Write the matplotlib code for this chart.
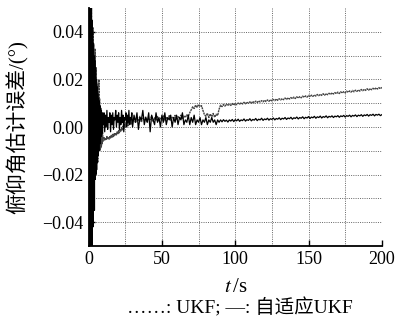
import numpy as np
import matplotlib
matplotlib.use("Agg")
import matplotlib.pyplot as plt

# time sampling: 0-10 s every 0.25 s, 10-30 s every 0.5 s, 30-200 s every 1 s
t = np.concatenate([np.arange(0, 10, 0.25), np.arange(10, 30, 0.5), np.arange(30, 201, 1.0)])

adaptive_ukf = [
    0.00, 0.09, -0.08, 0.07, -0.085, 0.06, -0.07, 0.055, -0.06,
    0.045, -0.05, 0.04, -0.042,
    0.035, -0.03, 0.03, -0.035,
    0.028, -0.022, 0.025, -0.02,
    0.02, -0.018, 0.017, -0.015,
    0.014, -0.012, 0.012, -0.01,
    0.011, -0.006, 0.009, -0.007,
    0.008, -0.004, 0.007, -0.003,
    0.006, -0.002, 0.005,
    # 10 - 29.5
    0.001, 0.006, -0.002, 0.005, 0.000, 0.007, -0.001, 0.004, 0.002, 0.006,
    -0.002, 0.005, 0.001, 0.006, -0.001, 0.004, 0.003, 0.007, 0.000, 0.005,
    0.002, 0.006, -0.001, 0.004, 0.001, 0.007, 0.002, 0.005, -0.002, 0.004,
    0.003, 0.006, 0.000, 0.005, 0.002, 0.007, 0.001, 0.004, 0.003, 0.006,
    # 30 - 89
    0.000, 0.005, 0.002, 0.006, -0.001, 0.004, 0.003, 0.007, 0.001, 0.004,
    0.002, 0.006, -0.002, 0.005, 0.003, 0.001, 0.006, 0.002, 0.004, 0.000,
    0.005, 0.002, 0.006, 0.001, 0.004, 0.003, 0.005, 0.000, 0.004, 0.002,
    0.005, 0.001, 0.004, 0.003, 0.006, 0.001, 0.003, 0.002, 0.005, 0.001,
    0.004, 0.002, 0.005, 0.001, 0.003, 0.002, 0.004, 0.001, 0.003, 0.002,
    0.004, 0.001, 0.003, 0.002, 0.004, 0.002, 0.003, 0.001, 0.003, 0.002,
    # 90 - 200
    0.0030, 0.0022, 0.0031, 0.0024, 0.0029, 0.0021, 0.0030, 0.0025, 0.0032, 0.0023,
    0.0031, 0.0026, 0.0033, 0.0024, 0.0030, 0.0027, 0.0034, 0.0025, 0.0031, 0.0028,
    0.0035, 0.0026, 0.0032, 0.0029, 0.0036, 0.0027, 0.0033, 0.0030, 0.0037, 0.0028,
    0.0034, 0.0031, 0.0037, 0.0029, 0.0035, 0.0032, 0.0038, 0.0030, 0.0036, 0.0033,
    0.0039, 0.0031, 0.0037, 0.0034, 0.0040, 0.0032, 0.0038, 0.0035, 0.0041, 0.0033,
    0.0039, 0.0036, 0.0042, 0.0034, 0.0040, 0.0037, 0.0043, 0.0035, 0.0041, 0.0038,
    0.0044, 0.0036, 0.0042, 0.0039, 0.0045, 0.0037, 0.0043, 0.0040, 0.0046, 0.0038,
    0.0044, 0.0041, 0.0047, 0.0039, 0.0045, 0.0042, 0.0047, 0.0040, 0.0046, 0.0043,
    0.0048, 0.0041, 0.0047, 0.0044, 0.0049, 0.0042, 0.0048, 0.0045, 0.0050, 0.0043,
    0.0049, 0.0046, 0.0051, 0.0044, 0.0050, 0.0047, 0.0052, 0.0045, 0.0051, 0.0048,
    0.0053, 0.0046, 0.0052, 0.0049, 0.0054, 0.0047, 0.0053, 0.0050, 0.0054, 0.0048,
    0.0052,
]

ukf = [
    0.00, -0.09, 0.08, -0.075, 0.085, -0.065, 0.07, -0.06, 0.05,
    -0.045, 0.038, -0.04, 0.042,
    -0.03, 0.035, -0.028, 0.03,
    -0.02, 0.033, -0.015, 0.025,
    -0.012, 0.02, -0.014, 0.018,
    -0.015, 0.014, -0.01, 0.02,
    -0.008, 0.012, -0.01, 0.008,
    -0.009, 0.006, -0.008, 0.003,
    -0.007, -0.002, -0.006,
    # 10 - 29.5
    -0.0050, -0.0042, -0.0055, -0.0046, -0.0052, -0.0040, -0.0049, -0.0043, -0.0051, -0.0038,
    -0.0046, -0.0035, -0.0043, -0.0031, -0.0040, -0.0028, -0.0036, -0.0025, -0.0033, -0.0020,
    -0.0028, -0.0015, -0.0024, -0.0008, -0.0018, -0.0002, -0.0012, 0.0004, -0.0006, 0.0010,
    0.0000, 0.0018, 0.0004, 0.0022, 0.0006, 0.0028, 0.0010, 0.0030, 0.0012, 0.0032,
    # 30 - 89
    0.0025, 0.0040, 0.0018, 0.0035, 0.0028, 0.0045, 0.0020, 0.0038, 0.0030, 0.0042,
    0.0022, 0.0036, 0.0031, 0.0046, 0.0024, 0.0039, 0.0029, 0.0044, 0.0026, 0.0037,
    0.0032, 0.0047, 0.0027, 0.0040, 0.0033, 0.0048, 0.0029, 0.0041, 0.0035, 0.0049,
    0.0031, 0.0044, 0.0036, 0.0050, 0.0033, 0.0046, 0.0040, 0.0052, 0.0045, 0.0060,
    0.0072, 0.0085, 0.0078, 0.0092, 0.0083, 0.0095, 0.0086, 0.0090, 0.0070, 0.0052,
    0.0045, 0.0058, 0.0040, 0.0055, 0.0043, 0.0057, 0.0041, 0.0054, 0.0048, 0.0075,
    # 90 - 200
    0.0092, 0.0086, 0.0095, 0.0088, 0.0097, 0.0090, 0.0096, 0.0091, 0.0099, 0.0092,
    0.0100, 0.0094, 0.0101, 0.0096, 0.0103, 0.0097, 0.0104, 0.0098, 0.0105, 0.0100,
    0.0106, 0.0100, 0.0108, 0.0102, 0.0109, 0.0103, 0.0110, 0.0105, 0.0111, 0.0106,
    0.0113, 0.0107, 0.0114, 0.0108, 0.0115, 0.0110, 0.0116, 0.0111, 0.0118, 0.0112,
    0.0119, 0.0114, 0.0120, 0.0115, 0.0122, 0.0116, 0.0123, 0.0118, 0.0124, 0.0119,
    0.0126, 0.0120, 0.0127, 0.0122, 0.0128, 0.0123, 0.0130, 0.0125, 0.0131, 0.0126,
    0.0133, 0.0127, 0.0134, 0.0129, 0.0135, 0.0130, 0.0137, 0.0132, 0.0138, 0.0133,
    0.0140, 0.0134, 0.0141, 0.0136, 0.0142, 0.0137, 0.0144, 0.0139, 0.0145, 0.0140,
    0.0147, 0.0141, 0.0148, 0.0143, 0.0149, 0.0144, 0.0151, 0.0146, 0.0152, 0.0147,
    0.0154, 0.0148, 0.0155, 0.0150, 0.0156, 0.0151, 0.0158, 0.0153, 0.0159, 0.0154,
    0.0161, 0.0155, 0.0162, 0.0157, 0.0163, 0.0158, 0.0165, 0.0160, 0.0166, 0.0161,
    0.0167,
]

xticks = [0, 50, 100, 150, 200]
yticks = [-0.04, -0.02, 0.00, 0.02, 0.04]
xgrid = [25, 50, 75, 100, 125, 150, 175]
ygrid = [-0.04, -0.03, -0.02, -0.01, 0.00, 0.01, 0.02, 0.03, 0.04]
ylabel = "俯仰角估计误差/(°)"
legend_text = "……: UKF; —: 自适应UKF"

serif = ["Liberation Serif", "Noto Sans CJK SC"]
plt.rcParams["font.family"] = serif
plt.rcParams["mathtext.fontset"] = "stix"

fig = plt.figure(figsize=(3.99, 3.27), dpi=100)
ax = fig.add_axes([0.222, 0.248, 0.735, 0.727])

grid_style = dict(color="#666666", linestyle=(0, (1, 1.3)), linewidth=0.7, zorder=0)
for gx in xgrid:
    ax.axvline(gx, **grid_style)
for gy in ygrid:
    ax.axhline(gy, **grid_style)

ax.plot(t, ukf, color="#444444", lw=1.0, linestyle=(0, (1.5, 0.5)))
ax.plot(t, adaptive_ukf, color="black", lw=0.9)

ax.set_xlim(0, 200)
ax.set_ylim(-0.05, 0.05)
ax.set_xticks(xticks)
ax.set_yticks(yticks)
ax.set_yticklabels([f"{v:.2f}".replace("-", "\u2212") for v in yticks])
ax.tick_params(which="major", direction="in", length=4, width=1, labelsize=13)
for s in ["top", "right"]:
    ax.spines[s].set_visible(False)
for s in ["left", "bottom"]:
    ax.spines[s].set_linewidth(1.3)

ax.set_ylabel(ylabel, fontsize=15, family=serif)
ax.yaxis.set_label_coords(-0.205, 0.5)
fig.text(0.59, 0.12, "$t\\,$/s", ha="center", va="center", fontsize=15)
fig.text(0.6, 0.058, legend_text, ha="center", va="center", fontsize=14, family=serif)

fig.savefig("out.png", dpi=100)
